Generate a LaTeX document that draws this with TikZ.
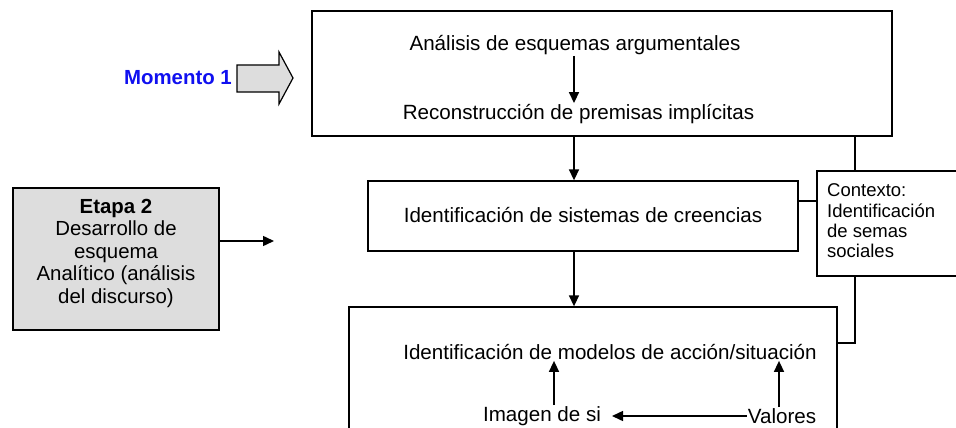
\documentclass[tikz,border=0pt]{standalone}
\usepackage{fontspec}
\setmainfont{Liberation Sans}
\usetikzlibrary{arrows.meta}
\definecolor{boxgray}{HTML}{DDDDDD}
\definecolor{momblue}{HTML}{1010F0}
\begin{document}
\begin{tikzpicture}[x=1pt,y=-1pt,
  every node/.style={font=\fontsize{20.6}{23}\selectfont},
  framebox/.style={draw,line width=1.3pt,inner sep=0pt},
  txt/.style={inner sep=1pt},
  arr/.style={line width=1.5pt,-{Triangle[length=11pt,width=10pt]}},
  link/.style={line width=1.3pt}]
\useasboundingbox (0,0) rectangle (956,428);
\clip (0,0) rectangle (956,428);
\fill[white] (0,0) rectangle (956,428);
% boxes
\node[framebox,minimum width=580pt,minimum height=125pt] (top) at (602,73.5) {};
\node[framebox,minimum width=430pt,minimum height=70pt] (mid) at (583,216) {};
\node[framebox,minimum width=160pt,minimum height=105pt] (ctx) at (897,223.5) {};
\node[framebox,minimum width=488pt,minimum height=160pt] (bot) at (593,387) {};
\node[framebox,fill=boxgray,minimum width=206pt,minimum height=142pt] (etapa) at (116,259) {};
% texts
\node[txt] (t1) at (575,45) {Análisis de esquemas argumentales};
\node[txt] (t2) at (578.5,114) {Reconstrucción de premisas implícitas};
\node[txt] (mtxt) at (583,215) {Identificación de sistemas de creencias};
\node[txt,align=left,anchor=west,font=\fontsize{18.5}{20.3}\selectfont] (ctxt) at (826,221) {Contexto:\\Identificación\\de semas\\sociales};
\node[txt] (b1) at (610,352) {Identificación de modelos de acción/situación};
\node[txt] (b2) at (542,416) {Imagen de si};
\node[txt] (b3) at (782,416) {Valores};
\node[txt,align=center,font=\fontsize{20.4}{22.5}\selectfont] (etxt) at (116,253) {\textbf{Etapa 2}\\Desarrollo de\\esquema\\Analítico (análisis\\del discurso)};
\node[txt,text=momblue,font=\bfseries\fontsize{20.4}{23}\selectfont,anchor=east] (mom) at (233,78) {Momento 1};
% block arrow
\draw[line width=1.2pt,fill=boxgray,line join=miter]
  (237,65) -- (279,65) -- (279,52) -- (293,78) -- (279,104) -- (279,92) -- (237,92) -- cycle;
% helper coordinates
\coordinate (ax) at (574,0);
\coordinate (cx) at (855,0);
\coordinate (cy) at (0,201);
\coordinate (by) at (0,343);
\coordinate (ux) at (554,0);
\coordinate (vx) at (779,0);
\coordinate (lt) at (612,0);
\coordinate (eend) at (274,241);
% connectors
\draw[arr] (t1.south -| ax) -- (t2.north -| ax);
\draw[arr] (top.south -| ax) -- (mid.north -| ax);
\draw[arr] (mid.south -| ax) -- (bot.north -| ax);
\draw[link] (top.south -| cx) -- (ctx.north -| cx);
\draw[link] (mid.east |- cy) -- (ctx.west |- cy);
\draw[link] (ctx.south -| cx) |- (bot.east |- by);
\draw[arr] (b2.north -| ux) -- (b1.south -| ux);
\draw[arr] (b3.north -| vx) -- (b1.south -| vx);
\draw[arr] (b3.west) -- (b2.east -| lt);
\draw[arr] (etapa.east |- eend) -- (eend);
\end{tikzpicture}
\end{document}
